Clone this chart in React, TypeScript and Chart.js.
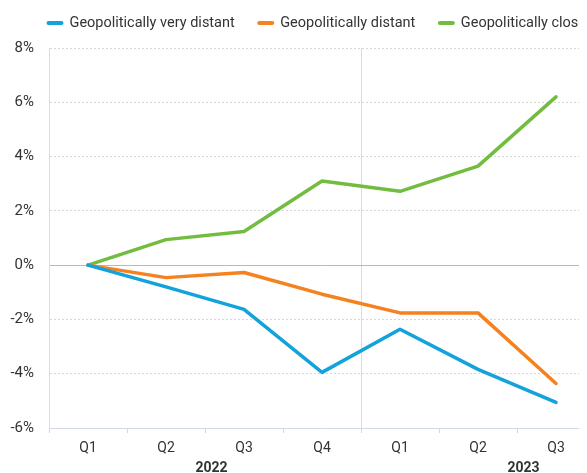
import React, { useEffect, useRef } from "react";
import { Chart, registerables } from "chart.js";

Chart.register(...registerables);

const quarters = ["Q1", "Q2", "Q3", "Q4", "Q1", "Q2", "Q3"];
const veryDistant = [0, -0.8, -1.63, -3.95, -2.36, -3.84, -5.06];
const distant = [0, -0.46, -0.27, -1.07, -1.76, -1.76, -4.36];
const close = [0, 0.94, 1.24, 3.1, 2.72, 3.65, 6.2];
const seriesLabels = ["Geopolitically very distant", "Geopolitically distant", "Geopolitically close"];
const seriesColors = ["#12a2dc", "#f5821f", "#72bd40"];
const yearLabels = ["2022", "2023"];
const yearStartIndex = [0, 4];
const quartersPerYear = 4;
const yTickMin = -6;
const yTickMax = 8;
const yTickStep = 2;

const FONT = "Roboto";
const TEXT = "#333333";

const yearPlugin = {
  id: "yearLabels",
  afterDraw(chart: any) {
    const x = chart.scales.x;
    const ctx = chart.ctx;
    ctx.save();
    ctx.font = `bold 14px ${FONT}`;
    ctx.fillStyle = TEXT;
    ctx.textAlign = "center";
    ctx.textBaseline = "middle";
    yearLabels.forEach((lbl, i) => {
      const px = x.getPixelForValue(yearStartIndex[i] + (quartersPerYear - 1) / 2);
      ctx.fillText(lbl, px + 6.5, x.bottom - 5);
    });
    ctx.restore();
  },
};

// Horizontal legend drawn from the chart's datasets (lets the last item run off the right edge).
const topLegend = {
  id: "topLegend",
  afterDraw(chart: any) {
    const ctx = chart.ctx;
    const opts = chart.options.plugins.topLegend || {};
    const startX = opts.startX ?? 38;
    const cy = opts.centerY ?? 15;
    const swatch = 16;
    const textGap = 7;
    const itemGap = 22.5;
    ctx.save();
    ctx.font = `14.5px ${FONT}`;
    ctx.textBaseline = "middle";
    ctx.textAlign = "left";
    let x = startX;
    chart.data.datasets.forEach((ds: any) => {
      ctx.strokeStyle = ds.borderColor;
      ctx.lineWidth = 4;
      ctx.lineCap = "round";
      ctx.beginPath();
      ctx.moveTo(x + 2, cy);
      ctx.lineTo(x + swatch - 1, cy);
      ctx.stroke();
      const tx = x + swatch + textGap;
      ctx.fillStyle = TEXT;
      ctx.fillText(ds.label, tx, cy);
      x = tx + ctx.measureText(ds.label).width + itemGap;
    });
    ctx.restore();
  },
};

export default function App() {
  const ref = useRef<HTMLCanvasElement | null>(null);
  useEffect(() => {
    document.body.style.overflow = "hidden";
    document.documentElement.style.overflow = "hidden";
    const series = [veryDistant, distant, close];
    const chart = new Chart(ref.current as HTMLCanvasElement, {
      type: "line",
      data: {
        labels: quarters,
        datasets: series.map((data, i) => ({
          label: seriesLabels[i],
          data,
          borderColor: seriesColors[i],
          backgroundColor: seriesColors[i],
          borderWidth: 3.5,
          pointRadius: 0,
          pointHoverRadius: 0,
          tension: 0,
          borderJoinStyle: "round" as const,
          borderCapStyle: "round" as const,
        })),
      },
      options: {
        animation: false,
        responsive: false,
        maintainAspectRatio: false,
        layout: { padding: { top: 40, left: 0, right: 13, bottom: 0 } },
        plugins: {
          tooltip: { enabled: false },
          legend: { display: false },
          topLegend: { startX: 38.5, centerY: 15 },
        } as any,
        scales: {
          x: {
            offset: true,
            grid: {
              offset: true,
              drawOnChartArea: true,
              color: (c: any) => (c.index === yearStartIndex[1] ? "#dcdcdc" : "rgba(0,0,0,0)"),
              tickColor: "#d3d9e3",
              tickLength: 5,
            },
            border: { display: true, color: "#d3d9e3" },
            ticks: { color: TEXT, font: { family: FONT, size: 14 }, padding: 7, maxRotation: 0 },
            afterFit: (s: any) => {
              s.height = 45;
            },
          },
          y: {
            min: yTickMin,
            max: yTickMax,
            ticks: {
              stepSize: yTickStep,
              autoSkip: false,
              color: TEXT,
              font: { family: FONT, size: 15 },
              padding: 15,
              callback: (v: any) => `${v}%`,
            },
            grid: {
              drawTicks: false,
              color: (c: any) => (c.tick && c.tick.value === 0 ? "#bdb8b8" : c.tick && c.tick.value === yTickMin ? "#d3d9e3" : "#d6d6d6"),
            },
            border: {
              display: true,
              color: "#d9dee7",
              dash: (c: any) => (c.tick && c.tick.value !== 0 && c.tick.value !== yTickMin ? [2, 2] : []),
            },
            afterFit: (s: any) => {
              s.width = 41;
            },
          },
        },
      },
      plugins: [yearPlugin, topLegend],
    });
    return () => chart.destroy();
  }, []);
  return (
    <div style={{ width: 600, height: 465, overflow: "hidden" }}>
      <canvas ref={ref} width={600} height={465} style={{ width: 600, height: 465, display: "block" }} />
    </div>
  );
}
